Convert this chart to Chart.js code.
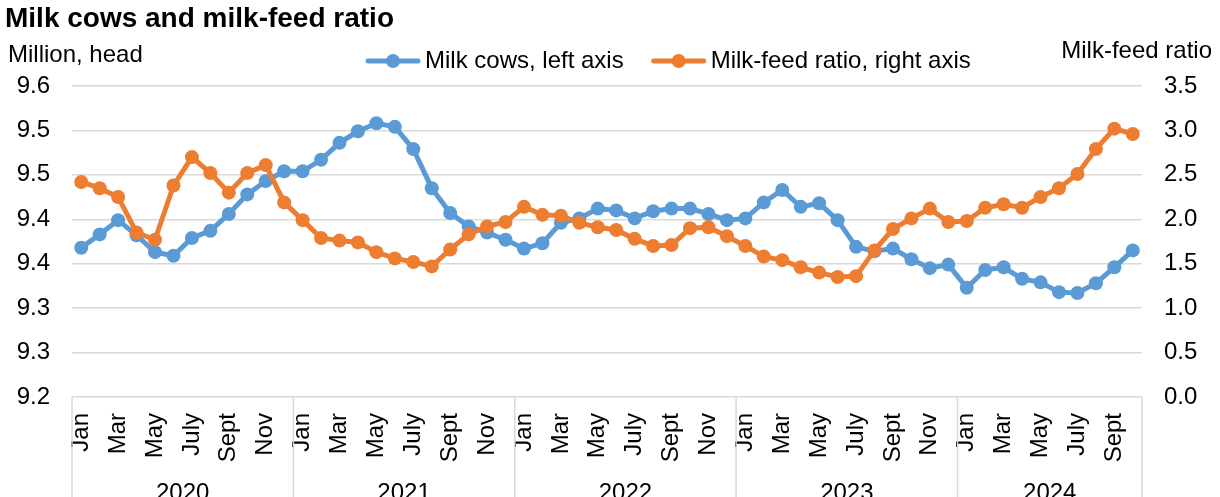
<!DOCTYPE html>
<html>
<head>
<meta charset="utf-8">
<script src="https://cdn.jsdelivr.net/npm/chart.js@4.4.1/dist/chart.umd.min.js"></script>
<style>
  html, body { margin: 0; padding: 0; background: #ffffff; }
  #wrap { width: 1220px; height: 497px; position: relative; }
</style>
</head>
<body>
<div id="wrap"><canvas id="chart" width="1220" height="497"></canvas></div>
<script>
// ---- Text ----
const chartTitle = 'Milk cows and milk-feed ratio';
const leftAxisTitle = 'Million, head';
const rightAxisTitle = 'Milk-feed ratio';
const seriesNames = ['Milk cows, left axis', 'Milk-feed ratio, right axis'];

// ---- Categories ----
const years = ['2020', '2021', '2022', '2023', '2024'];
const monthNames = ['Jan', 'Feb', 'Mar', 'Apr', 'May', 'June', 'July', 'Aug', 'Sept', 'Oct', 'Nov', 'Dec'];

// ---- Series (Jan 2020 – Oct 2024) ----
// Milk cows, million head
const milkCows = [
  9.368, 9.383, 9.399, 9.382, 9.363, 9.359, 9.379, 9.387, 9.406, 9.428, 9.443, 9.454,
  9.454, 9.467, 9.486, 9.499, 9.508, 9.504, 9.479, 9.435, 9.407, 9.392, 9.385, 9.377,
  9.367, 9.373, 9.396, 9.401, 9.412, 9.410, 9.401, 9.409, 9.412, 9.412, 9.406, 9.399,
  9.401, 9.419, 9.433, 9.414, 9.418, 9.399, 9.369, 9.364, 9.367, 9.355, 9.345, 9.349,
  9.323, 9.343, 9.346, 9.333, 9.329, 9.318, 9.317, 9.328, 9.346, 9.365
];
// Milk-feed ratio
const milkFeedRatio = [
  2.42, 2.35, 2.25, 1.85, 1.77, 2.38, 2.70, 2.52, 2.30, 2.52, 2.61, 2.19,
  1.99, 1.79, 1.76, 1.74, 1.63, 1.56, 1.52, 1.47, 1.66, 1.83, 1.92, 1.97,
  2.14, 2.05, 2.04, 1.96, 1.91, 1.88, 1.78, 1.70, 1.71, 1.90, 1.91, 1.81,
  1.70, 1.58, 1.54, 1.46, 1.40, 1.35, 1.36, 1.65, 1.89, 2.01, 2.12, 1.97,
  1.98, 2.13, 2.17, 2.13, 2.25, 2.35, 2.51, 2.79, 3.02, 2.96
];

// ---- Tick labels ----
const leftTickValues = [9.2, 9.25, 9.3, 9.35, 9.4, 9.45, 9.5, 9.55];
const leftTickLabels = ['9.2', '9.3', '9.3', '9.4', '9.4', '9.5', '9.5', '9.6'];
const rightTickValues = [0, 0.5, 1, 1.5, 2, 2.5, 3, 3.5];
const rightTickLabels = ['0.0', '0.5', '1.0', '1.5', '2.0', '2.5', '3.0', '3.5'];

// ---- Build month/year categories ----
const categories = [];
years.forEach(y => monthNames.forEach(m => categories.push({ month: m, year: y })));
categories.length = milkCows.length;
const monthLabels = categories.map(c => c.month);

// ---- Styling ----
const FONT = "'Liberation Sans', Arial, Helvetica, sans-serif";
const BLUE = '#5B9BD5';
const ORANGE = '#ED7D31';
const GRID = '#d9d9d9';
const TEXT = '#000000';

// Titles, legend, year groups and group separators under the category axis
const decorations = {
  id: 'decorations',
  afterDraw(chart) {
    const ctx = chart.ctx;
    const x = chart.scales.x;
    const area = chart.chartArea;
    ctx.save();

    // Chart title
    ctx.fillStyle = TEXT;
    ctx.textBaseline = 'alphabetic';
    ctx.textAlign = 'left';
    ctx.font = 'bold 28px ' + FONT;
    ctx.fillText(chartTitle, 5, 27);

    // Axis titles
    ctx.font = '24px ' + FONT;
    ctx.fillText(leftAxisTitle, 8, 62);
    ctx.textAlign = 'right';
    ctx.fillText(rightAxisTitle, 1212, 58);

    // Legend
    const legendY = 61;
    let lx = 366;
    chart.data.datasets.forEach(ds => {
      ctx.strokeStyle = ds.borderColor;
      ctx.lineWidth = 5;
      ctx.lineCap = 'round';
      ctx.beginPath();
      ctx.moveTo(lx + 2, legendY);
      ctx.lineTo(lx + 52, legendY);
      ctx.stroke();
      ctx.fillStyle = ds.borderColor;
      ctx.beginPath();
      ctx.arc(lx + 27, legendY, 7, 0, Math.PI * 2);
      ctx.fill();
      ctx.fillStyle = TEXT;
      ctx.textAlign = 'left';
      ctx.textBaseline = 'middle';
      ctx.font = '24px ' + FONT;
      ctx.fillText(ds.label, lx + 59, legendY);
      lx += 59 + ctx.measureText(ds.label).width + 28;
    });

    // Year groups below the month labels
    const n = categories.length;
    const band = (x.getPixelForValue(1) - x.getPixelForValue(0));
    const edges = [];
    const groups = [];
    categories.forEach((c, i) => {
      if (i === 0 || categories[i - 1].year !== c.year) {
        edges.push(x.getPixelForValue(i) - band / 2);
        groups.push({ year: c.year, start: i, end: i });
      } else {
        groups[groups.length - 1].end = i;
      }
    });
    edges.push(x.getPixelForValue(n - 1) + band / 2);

    ctx.strokeStyle = GRID;
    ctx.lineWidth = 1.5;
    ctx.lineCap = 'butt';
    edges.forEach(px => {
      ctx.beginPath();
      ctx.moveTo(px, area.bottom);
      ctx.lineTo(px, chart.height);
      ctx.stroke();
    });

    ctx.fillStyle = TEXT;
    ctx.textAlign = 'center';
    ctx.textBaseline = 'alphabetic';
    ctx.font = '24px ' + FONT;
    groups.forEach(g => {
      const cx = (x.getPixelForValue(g.start) + x.getPixelForValue(g.end)) / 2;
      ctx.fillText(g.year, cx, 500);
    });

    ctx.restore();
  }
};

const lineStyle = (color) => ({
  borderColor: color,
  backgroundColor: color,
  pointBackgroundColor: color,
  pointBorderColor: color,
  pointBorderWidth: 0,
  pointRadius: 7,
  pointHoverRadius: 7,
  borderWidth: 5,
  tension: 0,
  fill: false
});

new Chart(document.getElementById('chart'), {
  type: 'line',
  data: {
    labels: monthLabels,
    datasets: [
      Object.assign({ label: seriesNames[0], data: milkCows, yAxisID: 'yLeft', order: 2 }, lineStyle(BLUE)),
      Object.assign({ label: seriesNames[1], data: milkFeedRatio, yAxisID: 'yRight', order: 1 }, lineStyle(ORANGE))
    ]
  },
  options: {
    responsive: false,
    animation: false,
    devicePixelRatio: 1,
    layout: { padding: { top: 86, left: 0, right: 0, bottom: 0 } },
    plugins: {
      legend: { display: false },
      title: { display: false },
      tooltip: { enabled: false }
    },
    scales: {
      x: {
        type: 'category',
        offset: true,
        grid: { display: false, drawTicks: false },
        border: { display: false },
        ticks: {
          autoSkip: false,
          minRotation: 90,
          maxRotation: 90,
          padding: 16,
          color: TEXT,
          font: { family: FONT, size: 24 },
          callback: (v, i) => (i % 2 === 0 ? monthLabels[i] : '')
        },
        afterFit: s => { s.height = 100; }
      },
      yLeft: {
        position: 'left',
        min: 9.2,
        max: 9.55,
        grid: { color: GRID, lineWidth: 1.5, drawTicks: false },
        border: { display: false },
        afterBuildTicks: s => { s.ticks = leftTickValues.map(v => ({ value: v })); },
        ticks: {
          padding: 22,
          color: TEXT,
          font: { family: FONT, size: 24 },
          callback: (v, i) => leftTickLabels[i]
        },
        afterFit: s => { s.width = 72; }
      },
      yRight: {
        position: 'right',
        min: 0,
        max: 3.5,
        grid: { display: false, drawTicks: false },
        border: { display: false },
        afterBuildTicks: s => { s.ticks = rightTickValues.map(v => ({ value: v })); },
        ticks: {
          padding: 22,
          color: TEXT,
          font: { family: FONT, size: 24 },
          callback: (v, i) => rightTickLabels[i]
        },
        afterFit: s => { s.width = 78; }
      }
    }
  },
  plugins: [decorations]
});
</script>
</body>
</html>
